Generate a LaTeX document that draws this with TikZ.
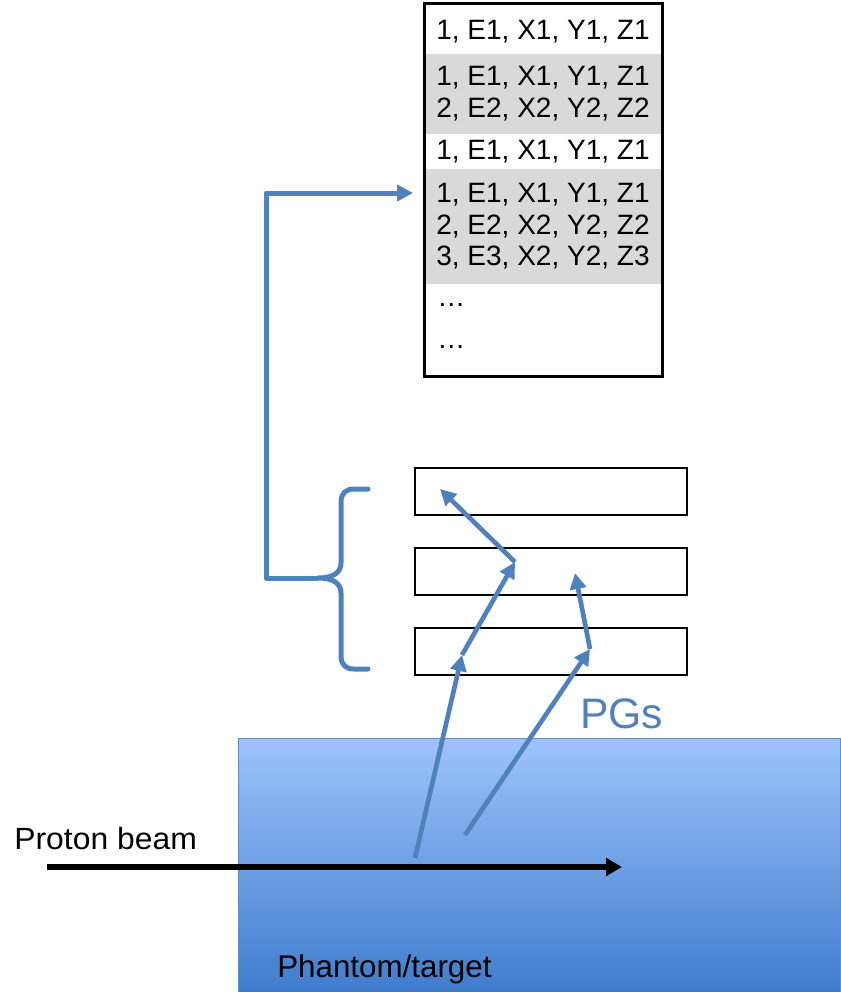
\documentclass[tikz,border=0pt]{standalone}
\usepackage{fontspec}
\setmainfont{Liberation Sans}
\usetikzlibrary{arrows.meta,positioning}
\definecolor{pgblue}{RGB}{79,129,189}
\definecolor{rowgray}{RGB}{217,217,217}
\definecolor{phtop}{RGB}{157,195,253}
\definecolor{phbot}{RGB}{63,124,204}
\tikzset{
  >={Triangle[length=12pt,width=12pt]},
  row/.style={fill=#1,minimum width=178.5pt,inner xsep=0pt,inner ysep=0pt,
    align=left,anchor=north,font=\fontsize{21}{23.6}\selectfont},
  row/.default=white,
  frame/.style={draw,line width=2.25pt,minimum width=178.5pt,minimum height=279.75pt,anchor=north},
  detector/.style={draw,line width=1.5pt,minimum width=204pt,minimum height=35.25pt},
  phantom/.style={draw=pgblue!90,line width=0.75pt,top color=phtop,bottom color=phbot,
    minimum width=451.5pt,minimum height=190.5pt,anchor=north west},
  track/.style={->,line width=3.5pt,draw=pgblue},
  link/.style={line width=3.75pt,draw=pgblue,line join=round},
  beam/.style={-{Triangle[length=12pt,width=13pt]},line width=4.5pt},
  tag/.style={anchor=base west,inner sep=0pt,font=\fontsize{#1}{#1}\selectfont},
  tag/.default=23,
}

\begin{document}
\begin{tikzpicture}[x=0.75pt,y=-0.75pt]
  \useasboundingbox (0,0) rectangle (840,992);
  % target
  \node[phantom] (ph) at (238,738) {};
  \node[tag=23.5] (phl) at (277,977) {Phantom/target};
  % beam
  \coordinate (b0) at (47,867);
  \coordinate (b1) at (622,867);
  \node[tag=23,xscale=1.04] (pb) at (14,849) {Proton beam};
  % detector planes
  \node[detector] (d1) at (551,491) {};
  \node[detector,below=23.25pt of d1] (d2) {};
  \node[detector,below=23.25pt of d2] (d3) {};
  % prompt gamma tracks
  \coordinate (v1) at (415,858);
  \coordinate (h1) at (462,655);
  \coordinate (h2) at (515,562);
  \coordinate (h3) at (440,489);
  \coordinate (v2) at (465,835);
  \coordinate (k1) at (590,649);
  \coordinate (k2) at (575,573);
  \draw[track] (v1) -- (h1);
  \draw[track] (h1) -- (h2);
  \draw[track] (h2) -- (h3);
  \draw[track] (v2) -- (k1);
  \draw[track] (k1) -- (k2);
  \draw[beam] (b0) -- (b1);
  \node[tag=32,text=pgblue] (pgs) at (580,728) {PGs};
  % recorded events
  \node[row] (r1) at (543,10) [minimum height=32.25pt] {1, E1, X1, Y1, Z1};
  \node[row=rowgray,minimum height=60pt,below=0pt of r1] (r2) {1, E1, X1, Y1, Z1\\2, E2, X2, Y2, Z2};
  \node[row,minimum height=25.5pt,below=0pt of r2] (r3) {1, E1, X1, Y1, Z1};
  \node[row=rowgray,minimum height=86.25pt,below=0pt of r3] (r4) {1, E1, X1, Y1, Z1\\2, E2, X2, Y2, Z2\\3, E3, X2, Y2, Z3};
  \node[tag=21] (dt1) at (437,306) {\dots};
  \node[tag=21] (dt2) at (437,348) {\dots};
  \node[frame] (log) at (543,2) {};
  % brace and readout link
  \coordinate (bt) at (318,578);
  \coordinate (logIn) at (413,193);
  \draw[link,line cap=round] (368,489) -- (354,489) .. controls (346,489) and (341,493) .. (341,502)
    -- (341,563) .. controls (341,572) and (334,578) .. (bt)
    .. controls (334,578) and (341,584) .. (341,593) -- (341,656)
    .. controls (341,665) and (346,669) .. (354,669) -- (368,669);
  \draw[link,->] (bt) -- (266,578) |- (logIn);
\end{tikzpicture}
\end{document}
